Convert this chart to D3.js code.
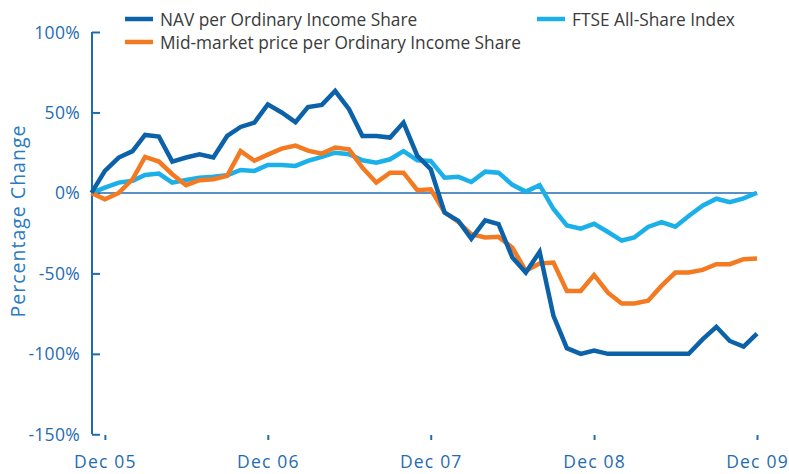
<!DOCTYPE html>
<html>
<head>
<meta charset="utf-8">
<script src="https://cdn.jsdelivr.net/npm/d3@7"></script>
<style>
  body { margin: 0; background: white; }
  text { font-family: "Open Sans", sans-serif; }
</style>
</head>
<body>
<div id="container"></div>
<script>
let w = 789;
let h = 474;

// monthly points, Nov 05 .. Dec 09
let months = d3.timeMonth.range(new Date(2005, 10, 1), new Date(2010, 0, 1));

let nav = [0, 13.7, 22, 26, 36, 35, 19.5, 22, 24, 22, 35.4, 41, 43.7, 55, 50, 44, 53.4, 54.7, 63.3, 52,
  35.4, 35.4, 34.4, 43.7, 23, 14.7, -12.2, -17.4, -28.4, -17, -19.4, -40.2, -49.5, -36.6, -76.4,
  -96.5, -100, -98, -100, -100, -100, -100, -100, -100, -100, -91, -83.2, -92, -95.5, -87.4];
let mid = [0, -4, 0, 8.5, 22.4, 19.5, 11.6, 4.8, 7.9, 8.5, 10.6, 26, 20, 23.8, 27.5, 29.4, 26.3, 24.4, 28.2, 27.1,
  15.7, 6.4, 12.6, 12.6, 1.7, 2.3, -12, -18, -25.7, -27.7, -27.3, -34, -48.4, -43.9, -43.3,
  -60.9, -60.9, -51, -62, -68.7, -68.7, -67, -57.8, -49.5, -49.5, -47.8, -44.3, -44.3, -41.2, -40.8];
let ftse = [0, 3.3, 6.4, 7.5, 11.2, 12, 6.4, 8, 9.5, 10, 11, 14.3, 13.7, 17.4, 17.4, 16.8, 19.9, 22.4, 25, 24,
  20.3, 18.8, 20.9, 26, 20.3, 19.9, 9.5, 10, 6.8, 13.2, 12.6, 5, 0.8, 4.8, -10,
  -20.2, -22.2, -19.2, -24.3, -29.6, -27.7, -21.1, -18.1, -21, -14.3, -8, -3.6, -5.8, -3.4, 0.1];

let yTicks = [100, 50, 0, -50, -100, -150];
let xTicks = [new Date(2005, 11, 1), new Date(2006, 11, 1), new Date(2007, 11, 1), new Date(2008, 11, 1), new Date(2009, 11, 1)];

let series = [
  {name: "FTSE All-Share Index", values: ftse, color: "#1cb0ea"},
  {name: "Mid-market price per Ordinary Income Share", values: mid, color: "#f47a22"},
  {name: "NAV per Ordinary Income Share", values: nav, color: "#0c62a9"}
];

let axisColor = "#1f6cb2";

let x = d3.scaleTime().domain([months[0], months[months.length - 1]]).range([91.5, 757]);
let y = d3.scaleLinear().domain([-150, 100]).range([434.3, 32]);

let viz = d3.select("#container")
  .append("svg")
    .attr("width", w)
    .attr("height", h)
    .style("background-color", "white");

// y axis, ticks pointing into the plot
let yAxis = viz.append("g")
  .attr("transform", "translate(92,0)")
  .call(d3.axisRight(y).tickValues(yTicks).tickSize(8).tickFormat(""));
yAxis.select(".domain").attr("d", "M0," + y(100) + "V" + y(-150)).attr("stroke", axisColor).attr("stroke-width", 2);
yAxis.selectAll(".tick line").attr("stroke", axisColor).attr("stroke-width", 2);

viz.selectAll(".ylab")
  .data(yTicks)
  .enter()
  .append("text")
    .attr("class", "ylab")
    .attr("x", 80)
    .attr("y", d => y(d) + 6.5)
    .attr("text-anchor", "end")
    .attr("fill", axisColor)
    .style("font-size", "17.5px")
    .style("letter-spacing", "0.3px")
    .text(d => d + "%");

// x ticks only, no line
let xAxis = viz.append("g")
  .attr("transform", "translate(0,435)")
  .call(d3.axisBottom(x).tickValues(xTicks).tickSize(5).tickPadding(16).tickFormat(d3.timeFormat("%b %y")));
xAxis.select(".domain").remove();
xAxis.selectAll(".tick line").attr("stroke", axisColor).attr("stroke-width", 2);
xAxis.selectAll(".tick text")
  .attr("fill", axisColor)
  .style("font-size", "17.5px")
  .style("letter-spacing", "1.2px")
  .style("font-family", "Open Sans, sans-serif");

// zero line
viz.append("line")
  .attr("x1", 92).attr("x2", x(months[months.length - 1]))
  .attr("y1", y(0)).attr("y2", y(0))
  .attr("stroke", axisColor).attr("stroke-width", 1.5);

viz.append("text")
  .attr("transform", "translate(25," + 221 + ") rotate(-90)")
  .attr("text-anchor", "middle")
  .attr("fill", "#2a7bc2")
  .style("font-size", "19.5px")
  .style("letter-spacing", "1px")
  .text("Percentage Change");

let line = d3.line()
  .x((d, i) => x(months[i]))
  .y(d => y(d));

viz.selectAll(".series")
  .data(series)
  .enter()
  .append("path")
    .attr("class", "series")
    .attr("d", d => line(d.values))
    .attr("fill", "none")
    .attr("stroke", d => d.color)
    .attr("stroke-width", 4.5)
    .attr("stroke-linejoin", "miter");

// legend
let legendPos = [
  {s: series[2], x: 125, y: 19},
  {s: series[1], x: 125, y: 42},
  {s: series[0], x: 537, y: 19}
];
let lg = viz.selectAll(".legend")
  .data(legendPos)
  .enter()
  .append("g")
    .attr("class", "legend")
    .attr("transform", d => "translate(" + d.x + "," + d.y + ")");
lg.append("line")
  .attr("x1", 0).attr("x2", 28)
  .attr("stroke", d => d.s.color)
  .attr("stroke-width", 4.5);
lg.append("text")
  .attr("x", 35)
  .attr("y", 6.5)
  .attr("fill", "#3a3a3a")
  .style("font-size", "17.3px")
  .text(d => d.s.name);
</script>
</body>
</html>
